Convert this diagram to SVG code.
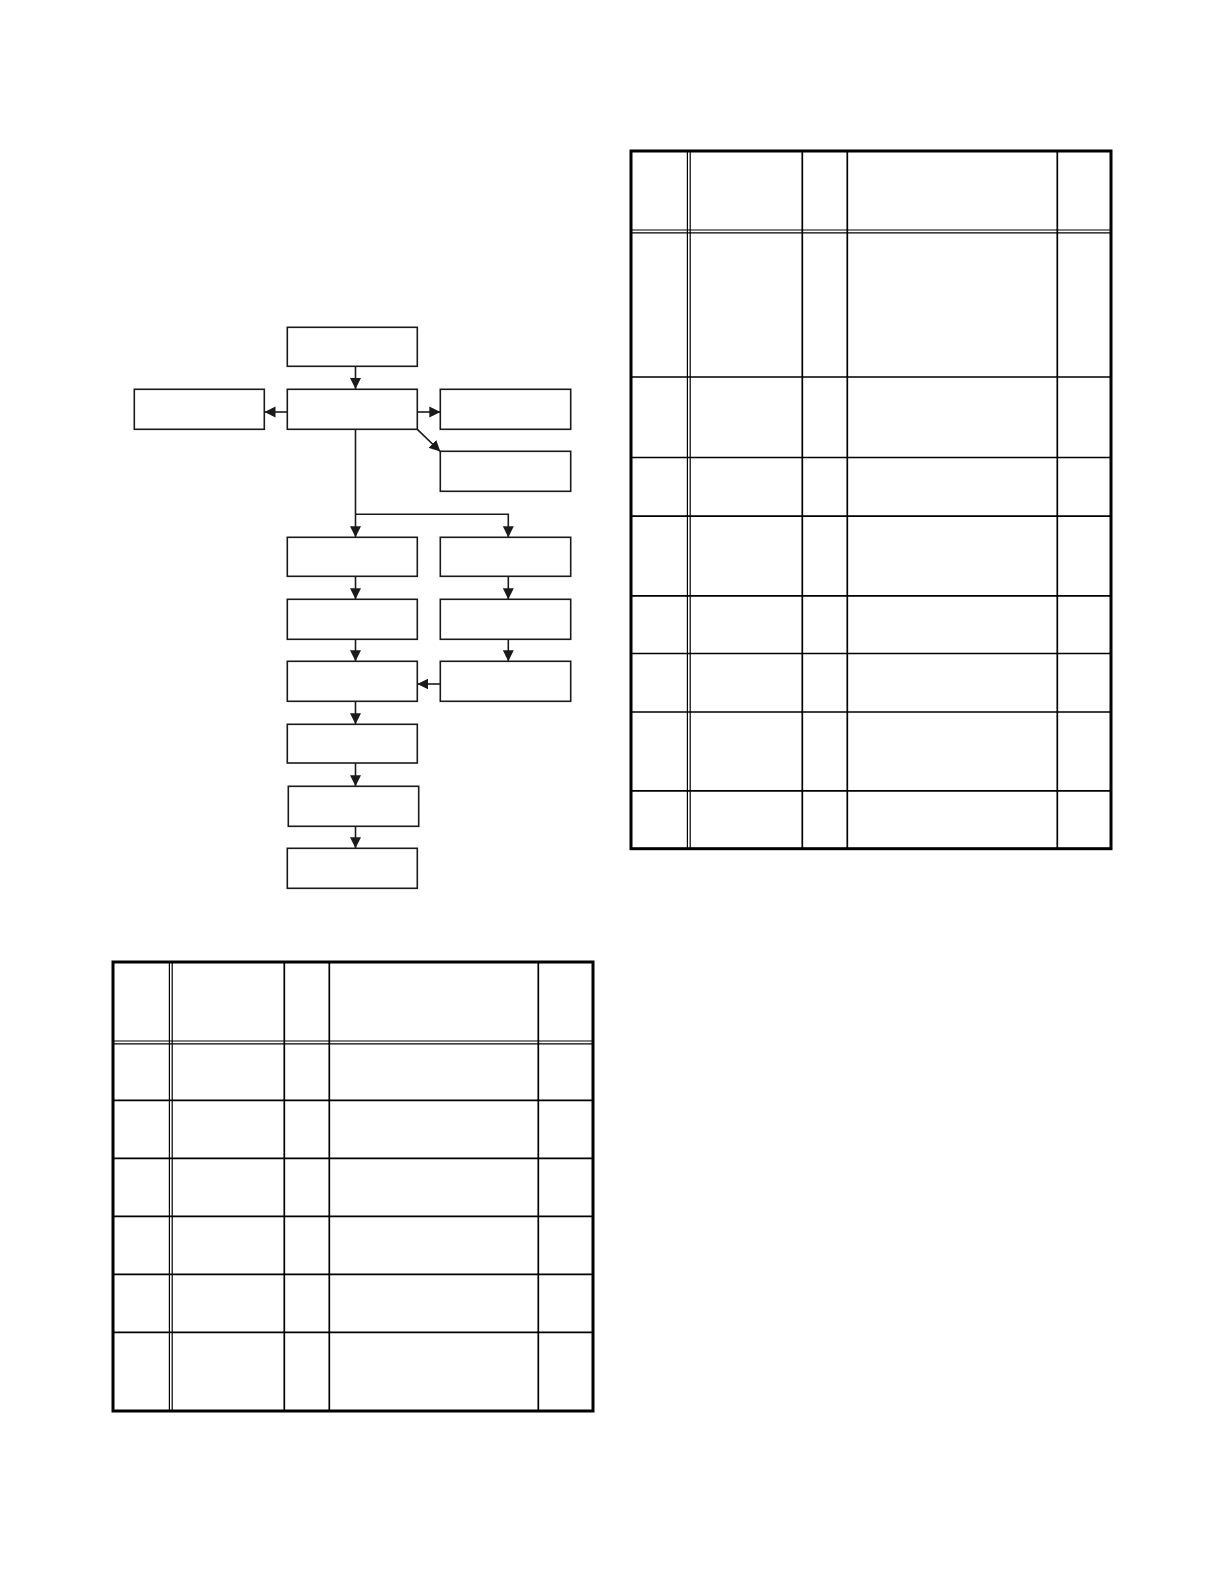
<svg xmlns="http://www.w3.org/2000/svg" width="1224" height="1584" viewBox="0 0 1224 1584">
<style>
.box{fill:#fff;stroke:#1a1a1a;stroke-width:1.6}
.con{fill:none;stroke:#1a1a1a;stroke-width:1.6}
.outer{fill:none;stroke:#000;stroke-width:3}
.in{fill:none;stroke:#000;stroke-width:1.7}
.dbl{fill:none;stroke:#000;stroke-width:1.2}
</style>
<defs>
<marker id="arr" viewBox="0 0 10 10" refX="10" refY="5" markerUnits="userSpaceOnUse" markerWidth="11" markerHeight="12" orient="auto">
<path d="M0,0 L10,5 L0,10 z" fill="#1a1a1a"/>
</marker>
</defs>
<rect width="1224" height="1584" fill="#fff"/>

<g id="connectors">
<path class="con" d="M355.5 366 V389" marker-end="url(#arr)"/>
<path class="con" d="M287.3 412 H264.5" marker-end="url(#arr)"/>
<path class="con" d="M417.3 412 H440.3" marker-end="url(#arr)"/>
<path class="con" d="M417.3 429.3 L440.3 451.5" marker-end="url(#arr)"/>
<path class="con" d="M355.5 429.3 V537.3" marker-end="url(#arr)"/>
<path class="con" d="M355.5 514.3 H508.3 V537.3" marker-end="url(#arr)"/>
<path class="con" d="M355.5 576.3 V599.3" marker-end="url(#arr)"/>
<path class="con" d="M355.5 639.3 V661.3" marker-end="url(#arr)"/>
<path class="con" d="M355.5 701.3 V724.3" marker-end="url(#arr)"/>
<path class="con" d="M355.5 763 V786.3" marker-end="url(#arr)"/>
<path class="con" d="M355.5 826.3 V848.3" marker-end="url(#arr)"/>
<path class="con" d="M508.3 576.3 V599.3" marker-end="url(#arr)"/>
<path class="con" d="M508.3 639.3 V661.3" marker-end="url(#arr)"/>
<path class="con" d="M440.3 684 H417.3" marker-end="url(#arr)"/>
</g>

<g id="n1"><rect class="box" x="287.3" y="327.3" width="130" height="39"/></g>
<g id="n2"><rect class="box" x="134.3" y="389.3" width="130" height="40"/></g>
<g id="n3"><rect class="box" x="287.3" y="389.3" width="130" height="40"/></g>
<g id="n4"><rect class="box" x="440.3" y="389.3" width="130.4" height="40"/></g>
<g id="n5"><rect class="box" x="440.3" y="451.3" width="130.4" height="40"/></g>
<g id="n6"><rect class="box" x="287.3" y="537.3" width="130" height="39"/></g>
<g id="n7"><rect class="box" x="440.3" y="537.3" width="130.4" height="39"/></g>
<g id="n8"><rect class="box" x="287.3" y="599.3" width="130" height="40"/></g>
<g id="n9"><rect class="box" x="440.3" y="599.3" width="130.4" height="40"/></g>
<g id="n10"><rect class="box" x="287.3" y="661.3" width="130" height="40"/></g>
<g id="n11"><rect class="box" x="440.3" y="661.3" width="130.4" height="40"/></g>
<g id="n12"><rect class="box" x="287.3" y="724.3" width="130" height="38.7"/></g>
<g id="n13"><rect class="box" x="288.3" y="786.3" width="130.4" height="40"/></g>
<g id="n14"><rect class="box" x="287.3" y="848.3" width="130" height="40"/></g>

<g id="table-right">
<path class="dbl" d="M687.4 151 V848.7 M690.2 151 V848.7 M631 230 H1111 M631 232.8 H1111"/>
<path class="in" d="M802.3 151 V848.7 M847.3 151 V848.7 M1057.3 151 V848.7"/>
<path class="in" d="M631 377 H1111 M631 457.5 H1111 M631 516.1 H1111 M631 595.9 H1111 M631 653.5 H1111 M631 712 H1111 M631 790.8 H1111"/>
<rect class="outer" x="631" y="151" width="480" height="697.7"/>
</g>

<g id="table-left">
<path class="dbl" d="M169.4 962 V1411 M172.2 962 V1411 M113 1041 H593 M113 1043.8 H593"/>
<path class="in" d="M284.3 962 V1411 M329.3 962 V1411 M538.3 962 V1411"/>
<path class="in" d="M113 1100.3 H593 M113 1158.3 H593 M113 1216.3 H593 M113 1274.3 H593 M113 1332.3 H593"/>
<rect class="outer" x="113" y="962" width="480" height="449"/>
</g>
</svg>
